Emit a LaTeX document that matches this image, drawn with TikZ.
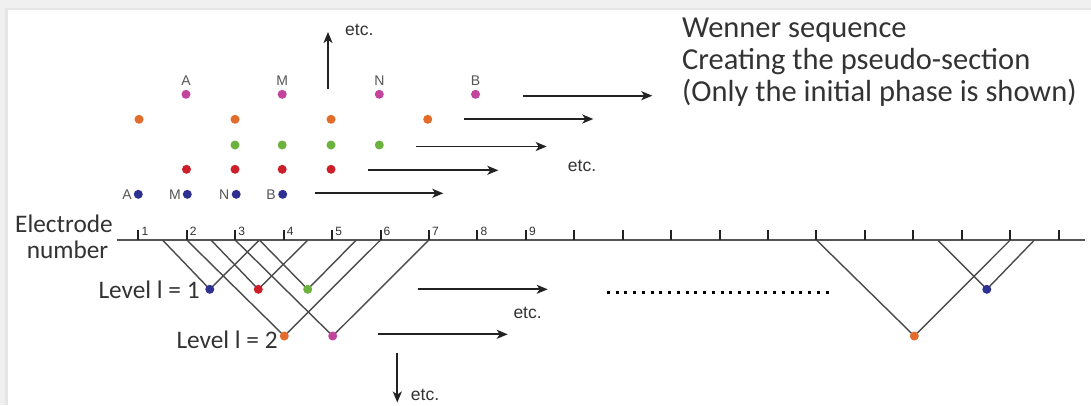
\documentclass[tikz,border=0pt]{standalone}
\usepackage{fontspec}
\setmainfont{Carlito}
\newfontfamily\arial{Liberation Sans}
\usetikzlibrary{arrows.meta}
\definecolor{cmag}{HTML}{C2449C}
\definecolor{cora}{HTML}{E46C2A}
\definecolor{cgre}{HTML}{6BB23E}
\definecolor{cred}{HTML}{CC1F2A}
\definecolor{cblu}{HTML}{2E3192}
\definecolor{txt}{HTML}{333333}
\definecolor{lblgray}{HTML}{555555}
\definecolor{vcol}{HTML}{4A4A4A}
\definecolor{gcol}{HTML}{555555}
\definecolor{arrcol}{HTML}{222222}
\definecolor{frame}{HTML}{F0F0F0}
\definecolor{frameedge}{HTML}{E6E6E6}
\begin{document}
\begin{tikzpicture}[x=1pt,y=-1pt,
  edot/.style={circle, fill=#1, inner sep=0pt, minimum size=9pt},
  lbl/.style={font=\arial\fontsize{14}{14}\selectfont, text=lblgray, inner sep=0pt},
  etclbl/.style={font=\arial\fontsize{17.5}{17.5}\selectfont, text=txt, inner sep=0pt, anchor=base west},
  num/.style={font=\arial\fontsize{12}{12}\selectfont, text=txt, inner sep=0pt, anchor=base west},
  big/.style={font=\fontsize{25.3}{25.3}\selectfont, inner sep=0pt, text=txt},
  ttl/.style={font=\fontsize{30.5}{30.5}\selectfont, inner sep=0pt, anchor=base west, text=txt},
  arr/.style={-{Stealth[length=11pt,width=9pt,inset=3pt]}, line width=1.8pt, draw=arrcol},
  vline/.style={line width=1.4pt, draw=vcol},
  groundline/.style={line width=2pt, draw=gcol},
  tickmark/.style={line width=2pt, draw=arrcol}]
\useasboundingbox (0,0) rectangle (1091,405);
\fill[white] (0,0) rectangle (1091,405);
% frame
\fill[frame] (0,0) rectangle (1091,10);
\fill[frame] (0,0) rectangle (8,405);
\fill[frameedge] (8,7.5) rectangle (1091,10);
\fill[frameedge] (5,7.5) rectangle (8,405);

% title
\node[ttl] (title1) at (682,37.5) {Wenner sequence};
\node[ttl] (title2) at (682,69.5) {Creating the pseudo-section};
\node[ttl] (title3) at (682,101.5) {(Only the initial phase is shown)};

% electrode line and ticks
\coordinate (gL) at (116.7,240);
\coordinate (gR) at (1085,240);
\draw[groundline] (gL) -- (gR);
\foreach \i in {1,...,20}{
  \coordinate (t\i) at ({138.3+(\i-1)*48.44},240);
  \draw[tickmark] (t\i) -- ++(0,-10);
}
\foreach \i in {1,...,9}{
  \node[num] (n\i) at ([xshift=3pt,yshift=5pt]t\i) {\i};
}
\node[big, anchor=base] (elec1) at (64,232.3) {Electrode};
\node[big, anchor=base] (elec2) at (67.5,258.3) {number};

% ground points for the V lines
\path (t1) -- (t2) coordinate[pos=0.5] (m12);
\path (t2) -- (t3) coordinate[pos=0.5] (m23);
\path (t3) -- (t4) coordinate[pos=0.5] (m34);
\path (t4) -- (t5) coordinate[pos=0.5] (m45);
\path (t5) -- (t6) coordinate[pos=0.5] (m56);
\path (t17) -- (t18) coordinate[pos=0.5] (m1718);
\path (t19) -- (t20) coordinate[pos=0.5] (m1920);

% lower dots (pseudo-section points)
\coordinate (pB) at (209.8,289.3);
\coordinate (pR) at (258.3,289.3);
\coordinate (pG) at (307.7,289.3);
\coordinate (pO) at (284.3,336);
\coordinate (pM) at (332.7,336);
\coordinate (pO2) at (914.3,336);
\coordinate (pB2) at (986.8,289.3);

\draw[vline] (m12) -- (pB) -- (m34);
\draw[vline] (m23) -- (pR) -- (m45);
\draw[vline] (m34) -- (pG) -- (m56);
\draw[vline] (t2) -- (pO) -- (t6);
\draw[vline] (t3) -- (pM) -- (t7);
\draw[vline] (t15) -- (pO2) -- (t19);
\draw[vline] (m1718) -- (pB2) -- (m1920);

\node[edot=cblu] (dB) at (pB) {};
\node[edot=cred] (dR) at (pR) {};
\node[edot=cgre] (dG) at (pG) {};
\node[edot=cora] (dO) at (pO) {};
\node[edot=cmag] (dM) at (pM) {};
\node[edot=cora] (dO2) at (pO2) {};
\node[edot=cblu] (dB2) at (pB2) {};

\node[big, anchor=base east] (lev1) at (199.8,298.5) {Level l = 1};
\node[big, anchor=base east] (lev2) at (277.8,348.3) {Level l = 2};

% dotted continuation
\coordinate (dotsL) at (607,292.7);
\coordinate (dotsR) at (834,292.7);
\draw[line width=3pt, dash pattern=on 3pt off 5.74pt, draw=black] (dotsL) -- (dotsR);

% lower arrows
\coordinate (la1s) at (417.7,289.3);
\coordinate (la1e) at (547.7,289.3);
\draw[arr] (la1s) -- (la1e);
\node[etclbl] (etcL1) at (513.3,318.3) {etc.};
\coordinate (la2s) at (378.3,334.3);
\coordinate (la2e) at (507.7,334.3);
\draw[arr] (la2s) -- (la2e);
\coordinate (dns) at (397.3,352.7);
\coordinate (dne) at (397.3,402.5);
\draw[arr] (dns) -- (dne);
\node[etclbl] (etcDown) at (410.7,400) {etc.};

% top dots
\node[edot=cmag] (mA) at (186,94.3) {};
\node[edot=cmag] (mM) at (282.2,94.3) {};
\node[edot=cmag] (mN) at (379.3,94.3) {};
\node[edot=cmag] (mB) at (475.5,94.3) {};
\node[lbl, anchor=base] (lA) at (186,85) {A};
\node[lbl, anchor=base] (lM) at (282.2,85) {M};
\node[lbl, anchor=base] (lN) at (379.3,85) {N};
\node[lbl, anchor=base] (lB) at (475.5,85) {B};

\node[edot=cora] (o1) at (139,119.3) {};
\node[edot=cora] (o2) at (235,119.3) {};
\node[edot=cora] (o3) at (331,119.3) {};
\node[edot=cora] (o4) at (427.7,119.3) {};

\node[edot=cgre] (g1) at (235,145) {};
\node[edot=cgre] (g2) at (282.2,145) {};
\node[edot=cgre] (g3) at (331,145) {};
\node[edot=cgre] (g4) at (379.3,145) {};

\node[edot=cred] (r1) at (186.5,169.3) {};
\node[edot=cred] (r2) at (235,169.3) {};
\node[edot=cred] (r3) at (282.2,169.3) {};
\node[edot=cred] (r4) at (331,169.3) {};

\node[edot=cblu] (b1) at (138.3,194.3) {};
\node[edot=cblu] (b2) at (187.3,194.3) {};
\node[edot=cblu] (b3) at (236.2,194.3) {};
\node[edot=cblu] (b4) at (282.7,194.3) {};
\node[lbl, anchor=base east] (bA) at (132,199.3) {A};
\node[lbl, anchor=base east] (bM) at (181,199.3) {M};
\node[lbl, anchor=base east] (bN) at (229.5,199.3) {N};
\node[lbl, anchor=base east] (bB) at (276,199.3) {B};

% top arrows
\coordinate (ab1) at (315,193.3);
\coordinate (ab2) at (443.3,193.3);
\draw[arr] (ab1) -- (ab2);
\coordinate (ar1) at (368.3,170.3);
\coordinate (ar2) at (498.3,170.3);
\draw[arr] (ar1) -- (ar2);
\coordinate (ag1) at (416,146.5);
\coordinate (ag2) at (546.7,146.5);
\draw[arr] (ag1) -- (ag2);
\coordinate (ao1) at (464,119);
\coordinate (ao2) at (593.3,119);
\draw[arr] (ao1) -- (ao2);
\coordinate (am1) at (523.3,95.7);
\coordinate (am2) at (652.3,95.7);
\draw[arr] (am1) -- (am2);
\node[etclbl] (etcTop) at (567.7,171.7) {etc.};

% up arrow
\coordinate (ups) at (328,89);
\coordinate (upe) at (328,32);
\draw[arr] (ups) -- (upe);
\node[etclbl] (etcUp) at (345,35) {etc.};
\end{tikzpicture}
\end{document}
